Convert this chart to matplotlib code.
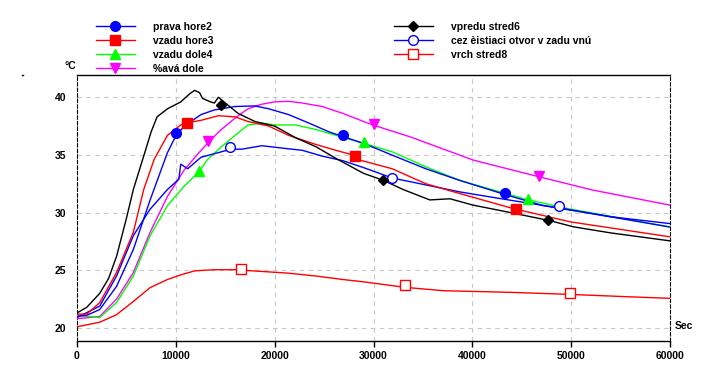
import matplotlib
matplotlib.use("Agg")
import matplotlib.pyplot as plt
from matplotlib.lines import Line2D

plt.rcParams['font.family'] = ['Liberation Sans', 'DejaVu Sans']
plt.rcParams['font.weight'] = 'bold'

# ---------------- data ----------------
# vpredu stred6 (black, diamond)
x_black = [0, 1000, 2300, 3200, 4000, 5000, 5700, 6750, 7500, 8100, 9150, 10500, 11400, 11900, 12400, 12700,
           13500, 13900, 14300, 15300, 16300, 18000, 20000, 22100, 24200, 26200, 29000, 31000, 33000,
           35700, 37740, 40070, 43480, 47860, 50220, 53930, 60000]
y_black = [21.3, 21.8, 23.0, 24.3, 26.2, 29.5, 32.0, 34.9, 37.0, 38.3, 39.0, 39.6, 40.3, 40.6, 40.4, 39.9,
           39.6, 39.5, 40.0, 39.3, 38.6, 37.9, 37.5, 36.5, 35.7, 34.7, 33.4, 32.8, 32.0,
           31.1, 31.2, 30.65, 30.07, 29.3, 28.77, 28.25, 27.55]
mx_black = [14600, 31000, 47700]
my_black = [39.3, 32.8, 29.4]

# vzadu hore3 (red, filled square)
x_red = [0, 1000, 2300, 4000, 5700, 6750, 7800, 9150, 10500, 11200, 12550, 14300, 16000, 17300, 19400,
         21400, 24200, 26200, 27900, 28635, 31900, 35300, 38700, 44100, 49900, 60000]
y_red = [21.2, 21.2, 22.2, 24.8, 28.3, 32.0, 34.6, 36.7, 37.6, 37.8, 38.0, 38.4, 38.3, 37.9, 37.5,
         36.7, 35.9, 35.4, 35.0, 34.55, 33.8, 32.5, 31.66, 30.36, 29.2, 27.9]
mx_red = [11100, 28100, 44420]
my_red = [37.8, 34.9, 30.35]

# prava hore2 (blue, filled circle)
x_blue = [0, 1000, 2300, 4000, 5700, 7400, 9150, 10000, 10850, 12550, 13900, 16000, 18000, 19400, 21400,
          23500, 25500, 26900, 29000, 31900, 35300, 38700, 43300, 47200, 52200, 60000]
y_blue = [21.0, 21.1, 21.6, 23.6, 26.8, 31.1, 35.2, 36.65, 37.5, 38.5, 38.9, 39.2, 39.25, 39.0, 38.5,
          37.75, 37.0, 36.6, 36.0, 34.98, 33.8, 32.8, 31.57, 30.6, 29.9, 28.75]
mx_blue = [10000, 26900, 43300]
my_blue = [36.9, 36.7, 31.7]

# vzadu dole4 (green, triangle)
x_green = [0, 2300, 4000, 5700, 7400, 9150, 10850, 12300, 13200, 14600, 16000, 17300, 18700, 20000, 22100,
           24200, 26200, 29000, 31900, 35300, 38700, 45500, 49600, 60000]
y_green = [21.1, 20.9, 22.2, 24.5, 28.0, 30.6, 32.3, 33.5, 34.6, 35.7, 36.7, 37.6, 37.75, 37.6, 37.6,
           37.2, 36.7, 36.0, 35.27, 33.97, 32.8, 31.14, 30.36, 28.75]
mx_green = [12300, 29000, 45600]
my_green = [33.6, 36.1, 31.2]

# %avá dole (magenta, inverted triangle)
x_mag = [0, 2300, 4000, 5700, 7400, 9150, 10850, 12550, 13400, 14600, 16000, 17300, 18700, 20000, 21400,
         22800, 24800, 26900, 29000, 30000, 33700, 40100, 46500, 52200, 60000]
y_mag = [20.8, 21.0, 22.5, 24.8, 28.3, 31.4, 33.7, 35.4, 36.2, 37.2, 38.2, 39.0, 39.4, 39.6, 39.65,
         39.5, 39.2, 38.6, 37.9, 37.58, 36.57, 34.55, 33.16, 31.95, 30.65]
mx_mag = [13300, 30000, 46700]
my_mag = [36.2, 37.7, 33.2]

# cez èistiaci otvor v zadu vnú (blue, open circle)
x_bo = [0, 2300, 4000, 5700, 7400, 9150, 10300, 10500, 11200, 12550, 14300, 15600, 16700, 18700, 20700,
        22800, 24800, 26900, 29000, 31900, 35300, 38700, 43800, 48800, 54000, 60000]
y_bo = [20.9, 21.9, 24.5, 28.0, 30.3, 32.0, 32.9, 34.2, 33.8, 34.8, 35.2, 35.5, 35.5, 35.8, 35.6,
        35.4, 34.9, 34.5, 33.9, 33.0, 32.4, 31.8, 31.08, 30.4, 29.64, 29.05]
mx_bo = [15500, 31900, 48800]
my_bo = [35.7, 33.0, 30.6]

# vrch stred8 (red, open square)
x_ro = [0, 2300, 4000, 5700, 7400, 9150, 10500, 11900, 13900, 16000, 18700, 21400, 24200, 26900, 29000,
        33200, 37100, 43800, 49900, 55600, 60000]
y_ro = [20.1, 20.5, 21.15, 22.3, 23.5, 24.2, 24.6, 24.95, 25.05, 25.05, 24.9, 24.75, 24.5, 24.2, 24.0,
        23.52, 23.23, 23.09, 22.91, 22.71, 22.57]
mx_ro = [16600, 33200, 49900]
my_ro = [25.1, 23.7, 23.0]

x_ticks = [0, 10000, 20000, 30000, 40000, 50000, 60000]
y_ticks = [20, 25, 30, 35, 40]

# ---------------- figure ----------------
fig = plt.figure(figsize=(7.19, 3.70), dpi=100)
ax = fig.add_axes([77/719, 1 - 341/370, 593/719, 266/370])

series = [
    (x_blue, y_blue, mx_blue, my_blue, '#0000ff', 'o', '#0000ff', 7, 'prava hore2'),
    (x_red, y_red, mx_red, my_red, '#ff0000', 's', '#ff0000', 7, 'vzadu hore3'),
    (x_green, y_green, mx_green, my_green, '#00ff00', '^', '#00ff00', 7.5, 'vzadu dole4'),
    (x_mag, y_mag, mx_mag, my_mag, '#ff00ff', 'v', '#ff00ff', 7.5, '%avá dole'),
    (x_black, y_black, mx_black, my_black, '#000000', 'D', '#000000', 5.5, 'vpredu stred6'),
    (x_bo, y_bo, mx_bo, my_bo, '#0000ff', 'o', 'white', 7, 'cez èistiaci otvor v zadu vnú'),
    (x_ro, y_ro, mx_ro, my_ro, '#ff0000', 's', 'white', 7, 'vrch stred8'),
]

draw_order = [6, 3, 2, 5, 0, 1, 4]
for i in draw_order:
    xs, ys, mxs, mys, c, m, fc, ms, lab = series[i]
    ax.plot(xs, ys, color=c, lw=1.0, zorder=3)
    ax.plot(mxs, mys, ls='none', marker=m, ms=ms, mfc=fc, mec=c, mew=1.0, zorder=4)

ax.set_xlim(0, 60000)
ax.set_ylim(18.87, 41.93)
ax.set_xticks(x_ticks)
ax.set_xticklabels([str(v) for v in x_ticks])
ax.set_yticks(y_ticks)
ax.set_yticklabels([str(v) for v in y_ticks])
ax.tick_params(axis='x', direction='out', length=4, width=1, labelsize=7.5, pad=3)
ax.tick_params(axis='y', length=0, labelsize=7.5, pad=8)
for lab in ax.get_xticklabels() + ax.get_yticklabels():
    lab.set_fontweight('bold')

ax.grid(True, color='#c8c8c8', ls=(0, (4, 4)), lw=0.8)
ax.set_axisbelow(True)
ax.spines['top'].set_linewidth(1.0)
ax.spines['bottom'].set_linewidth(1.0)
ax.spines['left'].set_linestyle((0, (3, 2)))
ax.spines['right'].set_linestyle((0, (3, 2)))
ax.spines['left'].set_linewidth(0.8)
ax.spines['right'].set_linewidth(0.8)

fig.text(76/719, 1 - 66/370, '°C', ha='right', va='center', fontsize=7.5, fontweight='bold')
fig.text(675/719, 1 - 326/370, 'Sec', ha='left', va='center', fontsize=7.5, fontweight='bold')
fig.lines.append(Line2D([21.5/719, 22.5/719], [1 - 75/370, 1 - 75/370], transform=fig.transFigure,
                        color='black', lw=1))

def make_handles(idxs):
    hs = []
    for i in idxs:
        xs, ys, mxs, mys, c, m, fc, ms, lab = series[i]
        hs.append(Line2D([], [], color=c, lw=1.0, marker=m, ms=ms, mfc=fc, mec=c, mew=1.0, label=lab))
    return hs

common = dict(frameon=False, handlelength=3.7, handletextpad=1.75,
              labelspacing=0.38, borderpad=0, borderaxespad=0, prop={'weight': 'bold', 'size': 7.5})
leg1 = fig.legend(handles=make_handles([0, 1, 2, 3]), loc='upper left',
                  bbox_to_anchor=(96/719, 1 - 22/370), **common)
leg2 = fig.legend(handles=make_handles([4, 5, 6]), loc='upper left',
                  bbox_to_anchor=(394/719, 1 - 22/370), **common)

fig.savefig('out.png', dpi=100)
